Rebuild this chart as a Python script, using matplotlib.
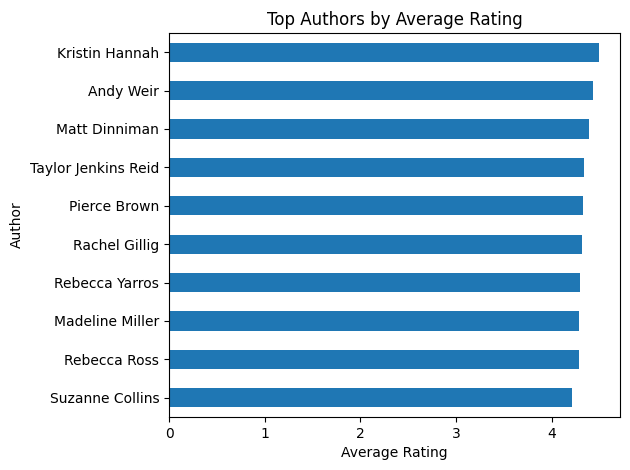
import pandas as pd
import matplotlib.pyplot as plt

# listed bottom to top, as pandas draws them
authors = ['Suzanne Collins', 'Rebecca Ross', 'Madeline Miller', 'Rebecca Yarros',
           'Rachel Gillig', 'Pierce Brown', 'Taylor Jenkins Reid', 'Matt Dinniman',
           'Andy Weir', 'Kristin Hannah']
ratings = [4.21, 4.29, 4.29, 4.30, 4.32, 4.33, 4.34, 4.39, 4.43, 4.49]

s = pd.Series(ratings, index=pd.Index(authors, name='Author'))

fig = plt.figure(figsize=(6.3, 4.7), dpi=100)
ax = s.plot(kind='barh')
ax.set_title('Top Authors by Average Rating')
ax.set_xlabel('Average Rating')
ax.set_ylabel('Author')
plt.subplots_adjust(left=0.2683, right=0.9841, bottom=0.1128, top=0.9298)
plt.savefig('out.png')
